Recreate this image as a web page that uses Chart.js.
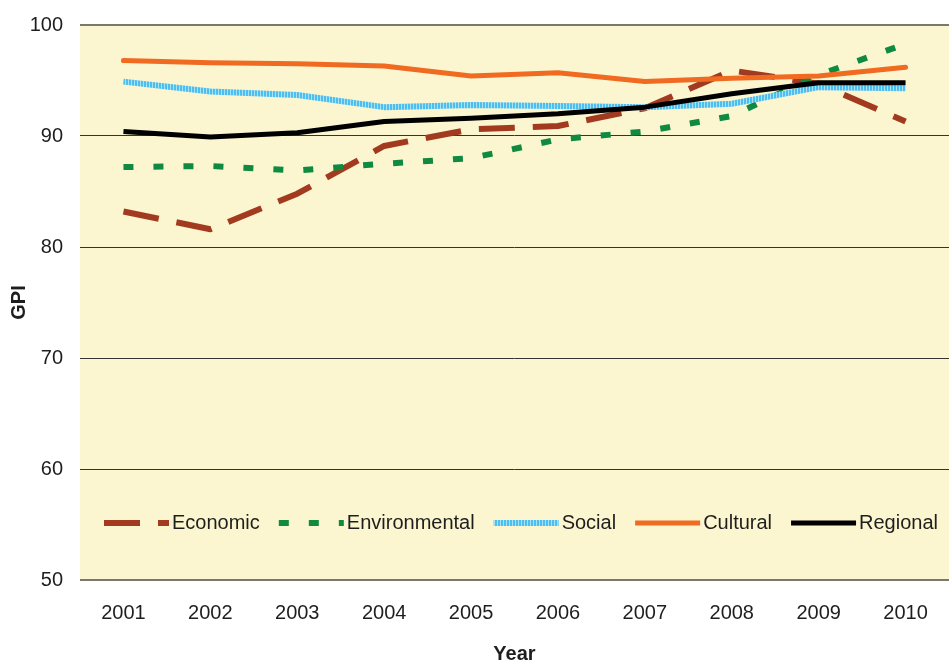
<!DOCTYPE html>
<html>
<head>
<meta charset="utf-8">
<script src="https://cdn.jsdelivr.net/npm/chart.js@4/dist/chart.umd.min.js"></script>
<style>
  html, body { margin: 0; padding: 0; background: #ffffff; }
  #wrap { width: 949px; height: 662px; }
</style>
</head>
<body>
<div id="wrap"><canvas id="gpi-chart" width="949" height="662"></canvas></div>
<script>
const years = ['2001', '2002', '2003', '2004', '2005', '2006', '2007', '2008', '2009', '2010'];
const economic = [83.2, 81.6, 84.8, 89.1, 90.6, 90.9, 92.5, 95.9, 94.7, 91.3];
const environmental = [87.2, 87.3, 86.9, 87.5, 88.0, 89.7, 90.4, 91.8, 95.5, 98.3];
const social = [94.9, 94.0, 93.7, 92.6, 92.8, 92.7, 92.6, 92.9, 94.4, 94.3];
const cultural = [96.8, 96.6, 96.5, 96.3, 95.4, 95.7, 94.9, 95.2, 95.4, 96.2];
const regional = [90.4, 89.9, 90.3, 91.3, 91.6, 92.0, 92.6, 93.8, 94.8, 94.8];

const yTicks = [50, 60, 70, 80, 90, 100];

const FONT = 'Liberation Sans, Arial, sans-serif';
const TEXT = '#1e1e1e';

const ctx = document.getElementById('gpi-chart').getContext('2d');

// hatched blue stroke for the social series
function makeHatch() {
  const c = document.createElement('canvas');
  c.width = 3;
  c.height = 3;
  const g = c.getContext('2d');
  g.fillStyle = '#4dbfee';
  g.fillRect(0, 0, 3, 3);
  g.fillStyle = '#a8e0f6';
  g.fillRect(2, 0, 1, 3);
  return ctx.createPattern(c, 'repeat');
}
const hatch = makeHatch();

// pale yellow plot background
const plotBackground = {
  id: 'plotBackground',
  beforeDraw(chart) {
    const { ctx, chartArea: a } = chart;
    ctx.save();
    ctx.fillStyle = '#fbf6cf';
    ctx.fillRect(a.left, a.top, a.right - a.left, a.bottom - a.top);
    ctx.restore();
  }
};

// one-row legend drawn inside the plot, near the bottom
const lineLegend = {
  id: 'lineLegend',
  afterDraw(chart) {
    const { ctx, chartArea: a } = chart;
    const y = a.bottom - 57;
    let x = a.left + 24;
    ctx.save();
    ctx.font = '20px ' + FONT;
    ctx.textBaseline = 'middle';
    chart.data.datasets.forEach(ds => {
      ctx.beginPath();
      ctx.setLineDash(ds.borderDash || []);
      ctx.lineDashOffset = 0;
      ctx.lineWidth = ds.borderWidth;
      ctx.lineCap = 'butt';
      ctx.strokeStyle = ds.borderColor;
      ctx.moveTo(x, y);
      ctx.lineTo(x + 65, y);
      ctx.stroke();
      x += 68;
      ctx.setLineDash([]);
      ctx.fillStyle = TEXT;
      ctx.fillText(ds.label, x, y);
      x += ctx.measureText(ds.label).width + 19;
    });
    ctx.restore();
  }
};

new Chart(ctx, {
  type: 'line',
  data: {
    labels: years,
    datasets: [
      {
        label: 'Economic',
        data: economic,
        borderColor: '#a23a20',
        borderWidth: 6,
        borderDash: [36, 18],
        order: 4
      },
      {
        label: 'Environmental',
        data: environmental,
        borderColor: '#108a40',
        borderWidth: 6,
        borderDash: [10, 20],
        order: 3
      },
      {
        label: 'Social',
        data: social,
        borderColor: hatch,
        borderWidth: 6,
        order: 2
      },
      {
        label: 'Cultural',
        data: cultural,
        borderColor: '#f06a22',
        borderWidth: 5,
        borderCapStyle: 'round',
        order: 1
      },
      {
        label: 'Regional',
        data: regional,
        borderColor: '#000000',
        borderWidth: 5,
        order: 0
      }
    ]
  },
  options: {
    responsive: false,
    animation: false,
    layout: { padding: { top: 25, right: 0, left: 0, bottom: 0 } },
    elements: {
      point: { radius: 0 },
      line: { tension: 0, fill: false, borderJoinStyle: 'round' }
    },
    plugins: {
      legend: { display: false },
      tooltip: { enabled: false }
    },
    scales: {
      x: {
        offset: true,
        grid: { display: false, drawTicks: false },
        border: { display: false },
        ticks: {
          color: TEXT,
          padding: 21,
          font: { family: FONT, size: 20 }
        },
        title: {
          display: true,
          text: 'Year',
          color: TEXT,
          padding: { top: 0, bottom: 0 },
          font: { family: FONT, size: 20, weight: 'bold', lineHeight: 0.8 }
        },
        afterFit(scale) {
          scale.height = 82;
          scale.paddingLeft = 0;
          scale.paddingRight = 0;
        }
      },
      y: {
        min: 50,
        max: 100,
        afterBuildTicks(scale) { scale.ticks = yTicks.map(v => ({ value: v })); },
        grid: {
          drawTicks: false,
          color: c => (c.tick.value === 100 || c.tick.value === 50) ? '#7a786c' : '#333333',
          lineWidth: c => (c.tick.value === 100 || c.tick.value === 50) ? 2 : 1
        },
        border: { display: false },
        ticks: {
          color: TEXT,
          padding: 17,
          font: { family: FONT, size: 20 }
        },
        title: {
          display: true,
          text: 'GPI',
          color: TEXT,
          padding: { top: 9, bottom: 0 },
          font: { family: FONT, size: 20, weight: 'bold', lineHeight: 1 }
        },
        afterFit(scale) {
          scale.width = 80;
          scale.paddingTop = 0;
          scale.paddingBottom = 0;
        }
      }
    }
  },
  plugins: [plotBackground, lineLegend]
});
</script>
</body>
</html>
